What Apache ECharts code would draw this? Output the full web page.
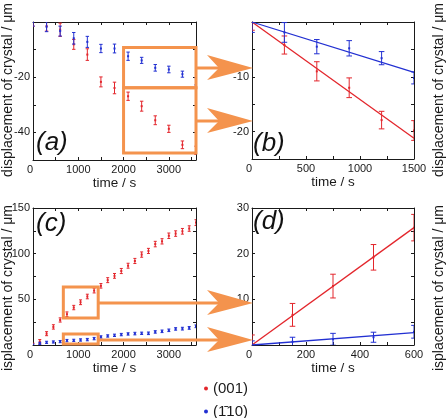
<!DOCTYPE html>
<html>
<head>
<meta charset="utf-8">
<script src="https://cdn.jsdelivr.net/npm/echarts@6/dist/echarts.min.js"></script>
<style>html,body{margin:0;padding:0;background:#fff;}#c{width:447px;height:418px;}</style>
</head>
<body>
<div id="c"></div>
<script>
// ---------- data ----------
const timeA = [0, 300, 600, 900, 1200, 1500, 1800, 2100, 2400, 2700, 3000, 3300, 3600];
const redA = [0, -1.5, -2.8, -8.1, -11.8, -21.7, -23.9, -26.9, -30.5, -35.6, -38.7, -44.5, -46.5];
const redAErr = [1.5, 1.8, 2.4, 1.8, 2.1, 1.8, 2.1, 1.5, 1.8, 1.6, 1.3, 1.4, 1.5];
const blueA = [0, -1.7, -3.3, -5.9, -7.2, -9.6, -9.6, -12.4, -13.9, -16.6, -17.2, -18.9, -21.5];
const blueAErr = [1.5, 1.8, 1.8, 2.1, 2.0, 1.5, 1.6, 1.5, 1.1, 1.2, 1.2, 1.1, 1.3];

const timeB = [0, 300, 600, 900, 1200, 1500];
const redB = [0, -4.2, -9.0, -12.0, -17.9, -19.8];
const redBErr = [1.5, 1.65, 1.75, 1.8, 1.6, 1.8];
const blueB = [0, -1.9, -4.5, -4.8, -6.6, -10.2];
const blueBErr = [1.9, 1.8, 1.3, 1.4, 1.2, 1.1];
const redFitB = [[0, 0], [1500, -21.2]];
const blueFitB = [[0, 0], [1500, -9.2]];

const timeC = [0, 150, 300, 450, 600, 750, 900, 1050, 1200, 1350, 1500, 1650, 1800, 1950, 2100, 2250, 2400, 2550, 2700, 2850, 3000, 3150, 3300, 3450, 3600];
const redC = [0, 3.7, 12.4, 19.8, 27.4, 33.7, 41.0, 46.8, 53.1, 59.6, 64.8, 71.0, 75.7, 81.0, 86.8, 92.0, 99.0, 103.0, 110.5, 113.5, 119.6, 122.0, 124.5, 127.5, 134.0];
const redCErr = [2.0, 2.3, 2.2, 2.4, 2.3, 2.5, 2.4, 2.6, 2.5, 2.6, 2.5, 2.7, 2.6, 2.8, 2.7, 2.8, 2.9, 2.8, 3.0, 2.9, 3.0, 3.0, 3.1, 3.0, 3.2];
const blueC = [0, 1.8, 2.9, 3.3, 3.7, 4.8, 5.1, 5.5, 5.9, 7.0, 8.8, 9.9, 10.6, 11.4, 12.1, 12.5, 12.8, 12.8, 14.3, 15.0, 16.1, 17.6, 17.9, 18.7, 20.5];
const blueCErr = [1.0, 1.2, 1.2, 1.2, 1.2, 1.3, 1.2, 1.3, 1.3, 1.3, 1.3, 1.3, 1.3, 1.3, 1.3, 1.4, 1.3, 1.4, 1.4, 1.4, 1.4, 1.4, 1.5, 1.5, 1.5];

const timeD = [0, 150, 300, 450, 600];
const redD = [0, 6.6, 12.9, 19.2, 25.7];
const redDErr = [2.2, 2.5, 2.6, 2.8, 2.9];
const blueD = [0, 0.7, 1.25, 1.7, 2.9];
const blueDErr = [0.9, 1.0, 1.3, 1.1, 1.4];
const redFitD = [[0, 0], [600, 25.7]];
const blueFitD = [[0, 0], [600, 2.7]];

// zoom boxes in data coords [x1, y1, x2, y2]
const boxesA = [[2000, -9.2, 3620, -23.8], [2000, -23.8, 3620, -47.5]];
const boxesC = [[670, 29.6, 1440, 63.5], [670, 1.0, 1440, 12.0]];

const xLabelsA = [0, 1000, 2000, 3000];
const yLabelsA = [-20, -40];
const xLabelsB = [0, 500, 1000, 1500];
const yLabelsB = [-10, -20];
const xLabelsC = [0, 1000, 2000, 3000];
const yLabelsC = [50, 100, 150];
const xLabelsD = [0, 200, 400, 600];
const yLabelsD = [10, 20, 30];

const NAME_RED = '(001)';
const NAME_BLUE = '(1\u030410)';

// ---------- style ----------
const RED = '#E3262C';
const BLUE = '#2230D2';
const ORANGE = '#F4934D';
const AX = '#1a1a1a';
const FONT = '"Liberation Sans", Arial, sans-serif';

const grids = [
  {left: 33, top: 22, width: 163, height: 138},
  {left: 252, top: 22, width: 162, height: 137},
  {left: 33, top: 208, width: 163, height: 137},
  {left: 252, top: 208, width: 162, height: 137}
];

function zip(t, v, e) { return t.map((x, i) => [x, v[i], e[i]]); }

function mkX(g, min, max, interval, labels) {
  return [
    {type: 'value', gridIndex: g, position: 'bottom', min, max, interval,
     name: 'time / s', nameLocation: 'middle', nameGap: 22,
     nameTextStyle: {fontSize: 13.5, color: AX, fontFamily: FONT, verticalAlign: 'middle'},
     axisLine: {show: true, onZero: false, lineStyle: {color: AX, width: 1}},
     axisTick: {show: true, inside: true, length: 3, lineStyle: {color: AX}},
     splitLine: {show: false},
     axisLabel: {show: true, fontSize: 11, color: AX, fontFamily: FONT, margin: 4,
       alignMinLabel: 'right', showMaxLabel: true, showMinLabel: true,
       formatter: v => labels.includes(v) ? String(v) : ''}},
    {type: 'value', gridIndex: g, position: 'top', min, max, interval,
     axisLine: {show: true, onZero: false, lineStyle: {color: AX, width: 1}},
     axisTick: {show: true, inside: true, length: 3, lineStyle: {color: AX}},
     splitLine: {show: false}, axisLabel: {show: false}}
  ];
}
function mkY(g, min, max, interval, labels) {
  return [
    {type: 'value', gridIndex: g, position: 'left', min, max, interval,
     axisLine: {show: true, onZero: false, lineStyle: {color: AX, width: 1}},
     axisTick: {show: true, inside: true, length: 3, lineStyle: {color: AX}},
     splitLine: {show: false},
     axisLabel: {show: true, fontSize: 11, color: AX, fontFamily: FONT, margin: 3,
       formatter: v => labels.includes(v) ? String(v) : ''}},
    {type: 'value', gridIndex: g, position: 'right', min, max, interval,
     axisLine: {show: true, onZero: false, lineStyle: {color: AX, width: 1}},
     axisTick: {show: true, inside: true, length: 3, lineStyle: {color: AX}},
     splitLine: {show: false}, axisLabel: {show: false}}
  ];
}

function errSeries(name, color, data, g, cap) {
  return {
    type: 'custom', name, coordinateSystem: 'cartesian2d',
    xAxisIndex: g * 2, yAxisIndex: g * 2, clip: true,
    itemStyle: {color}, z: 3,
    encode: {x: 0, y: 1},
    data,
    renderItem: function (params, api) {
      const x = api.value(0), y = api.value(1), e = api.value(2);
      const top = api.coord([x, y + e]);
      const bot = api.coord([x, y - e]);
      const mid = api.coord([x, y]);
      const st = {stroke: color, lineWidth: 1};
      return {type: 'group', children: [
        {type: 'line', shape: {x1: top[0], y1: top[1], x2: bot[0], y2: bot[1]}, style: st},
        {type: 'line', shape: {x1: top[0] - cap, y1: top[1], x2: top[0] + cap, y2: top[1]}, style: st},
        {type: 'line', shape: {x1: bot[0] - cap, y1: bot[1], x2: bot[0] + cap, y2: bot[1]}, style: st},
        {type: 'rect', shape: {x: mid[0] - 1, y: mid[1] - 1, width: 2, height: 2}, style: {fill: color}}
      ]};
    }
  };
}
function fitSeries(color, data, g) {
  return {type: 'line', xAxisIndex: g * 2, yAxisIndex: g * 2, data, showSymbol: false,
    symbol: 'none', lineStyle: {color, width: 1.3}, z: 2, silent: true, clip: true};
}
function boxSeries(boxes, g) {
  return {type: 'line', xAxisIndex: g * 2, yAxisIndex: g * 2, data: [], clip: false, silent: true, z: 5,
    markArea: {silent: true, z: 5,
      itemStyle: {color: 'rgba(0,0,0,0)', borderColor: ORANGE, borderWidth: 3},
      data: boxes.map(b => [{coord: [b[0], b[1]]}, {coord: [b[2], b[3]]}])}};
}

function arrow(x0, y) {
  return [
    {type: 'polyline', z: 10, shape: {points: [[x0, y], [222, y]]}, style: {stroke: ORANGE, lineWidth: 3, fill: null}},
    {type: 'polygon', z: 10, shape: {points: [[253, y], [207, y - 13], [219, y], [207, y + 12]]}, style: {fill: ORANGE}}
  ];
}

const yName = 'displacement of crystal / \u03bcm';
function yText(x, y) {
  return {type: 'text', z: 8, x, y, rotation: Math.PI / 2,
    style: {text: yName, fontSize: 14, fontFamily: FONT, fill: AX, align: 'center', verticalAlign: 'middle'}};
}
function panelLabel(t, x, y) {
  return {type: 'text', z: 8, x, y,
    style: {text: t, fontSize: 26, fontStyle: 'italic', fontFamily: FONT, fill: '#111', align: 'left', verticalAlign: 'middle'}};
}
function legendFor(name, top) {
  return {orient: 'horizontal', left: 199, top, itemWidth: 4, itemHeight: 4, itemGap: 4,
    textStyle: {fontSize: 15, color: AX, fontFamily: FONT},
    data: [{name, icon: 'circle'}]};
}

const chart = echarts.init(document.getElementById('c'), null, {renderer: 'canvas'});
chart.setOption({
  animation: false,
  backgroundColor: '#fff',
  grid: grids,
  xAxis: [].concat(mkX(0, 0, 3600, 500, xLabelsA), mkX(1, 0, 1500, 250, xLabelsB),
                   mkX(2, 0, 3600, 500, xLabelsC), mkX(3, 0, 600, 100, xLabelsD)),
  yAxis: [].concat(mkY(0, -50, 0, 10, yLabelsA), mkY(1, -25, 0, 5, yLabelsB),
                   mkY(2, 0, 150, 25, yLabelsC), mkY(3, 0, 30, 5, yLabelsD)),
  legend: [legendFor(NAME_RED, 376), legendFor(NAME_BLUE, 399)],
  series: [
    errSeries(NAME_RED, RED, zip(timeA, redA, redAErr), 0, 1.7),
    errSeries(NAME_BLUE, BLUE, zip(timeA, blueA, blueAErr), 0, 1.7),
    boxSeries(boxesA, 0),
    fitSeries(RED, redFitB, 1),
    fitSeries(BLUE, blueFitB, 1),
    errSeries(NAME_RED, RED, zip(timeB, redB, redBErr), 1, 2.8),
    errSeries(NAME_BLUE, BLUE, zip(timeB, blueB, blueBErr), 1, 2.8),
    errSeries(NAME_RED, RED, zip(timeC, redC, redCErr), 2, 1.5),
    errSeries(NAME_BLUE, BLUE, zip(timeC, blueC, blueCErr), 2, 1.5),
    boxSeries(boxesC, 2),
    fitSeries(RED, redFitD, 3),
    fitSeries(BLUE, blueFitD, 3),
    errSeries(NAME_RED, RED, zip(timeD, redD, redDErr), 3, 2.8),
    errSeries(NAME_BLUE, BLUE, zip(timeD, blueD, blueDErr), 3, 2.8)
  ],
  graphic: [].concat(
    arrow(197, 68), arrow(197, 121), arrow(98, 303), arrow(98, 340),
    [yText(8, 90), yText(439, 90), yText(8, 292), yText(439, 292),
     {type: 'rect', z: 9, shape: {x: 0, y: 371, width: 22, height: 47}, style: {fill: '#fff'}},
     {type: 'rect', z: 9, shape: {x: 425, y: 371, width: 22, height: 47}, style: {fill: '#fff'}},
     panelLabel('(a)', 36, 143), panelLabel('(b)', 253, 144),
     panelLabel('(c)', 36, 224), panelLabel('(d)', 253, 222)]
  )
});
</script>
</body>
</html>
